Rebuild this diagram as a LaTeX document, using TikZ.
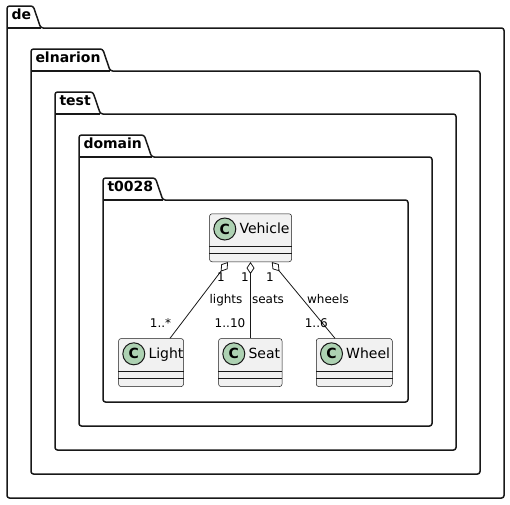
\documentclass[tikz,border=0pt]{standalone}
\usepackage{fontspec}
\setmainfont{DejaVu Sans}
\usetikzlibrary{arrows.meta,calc}
\definecolor{cfill}{HTML}{F1F1F1}
\definecolor{cline}{HTML}{181818}
\definecolor{cgreen}{HTML}{ADD1B2}
\tikzset{
  pkglabel/.style={font=\fontsize{14}{16}\selectfont\bfseries, anchor=base west, inner sep=0pt},
  pkgline/.style={draw=cline, line width=1.5pt, rounded corners=2.5pt},
  classbox/.style={draw=cline, fill=cfill, line width=0.5pt, rounded corners=2.5pt,
    minimum height=48pt, anchor=north west, inner sep=0pt},
  sepline/.style={draw=cline, line width=0.5pt},
  circ/.style={circle, draw=cline, fill=cgreen, line width=1pt, minimum size=22pt, inner sep=0pt,
    font=\fontsize{14}{16}\selectfont\bfseries},
  cname/.style={font=\fontsize{14}{16}\selectfont, anchor=base west, inner sep=0pt},
  lbl/.style={font=\fontsize{12}{14}\selectfont, anchor=base, inner sep=0pt},
  agg/.style={draw=cline, line width=0.8pt, arrows={Diamond[open,length=12pt,width=8pt]-}},
}
\newcommand\pkgdraw[6]{%
  \node[pkglabel] (#1) at (#2+4.3, #3+13.5) {#6};
  \coordinate (#1-tl) at (#2,#3);
  \coordinate (#1-bt) at (#2,#3+22);
  \coordinate (#1-a) at ($(#1.east)+(2,0)$);
  \coordinate (#1-b) at ($(#1.east)+(9.5,0)$);
  \draw[pkgline] (#1-bt) -- (#1-tl) -- (#1-a |- #1-tl) -- (#1-b |- #1-bt) -- (#4,#3+22) -- (#4,#5) -- (#2,#5) -- cycle;
  \draw[pkgline, rounded corners=0pt] (#1-bt) -- (#1-b |- #1-bt);
}
\newcommand\umlclass[5]{%
  \node[classbox, minimum width=#4pt] (#1) at (#2,#3) {};
  \draw[sepline] ($(#1.north west)+(0,33)$) -- ($(#1.north east)+(0,33)$);
  \draw[sepline] ($(#1.north west)+(0,40)$) -- ($(#1.north east)+(0,40)$);
  \node[circ] (#1-c) at (#2+15.5, #3+15.5) {C};
  \node[cname] (#1-n) at (#2+30, #3+20.2) {#5};
}
\begin{document}
\begin{tikzpicture}[x=1pt,y=-1pt]
\useasboundingbox (0,0) rectangle (510,504);
\pkgdraw{pde}{7}{6}{504}{498}{de}
\pkgdraw{pel}{31}{49}{480}{474}{elnarion}
\pkgdraw{pte}{55}{92}{456}{450}{test}
\pkgdraw{pdo}{79}{135}{432}{426}{domain}
\pkgdraw{pt0}{103}{178}{408}{402}{t0028}

\umlclass{vehicle}{209.3}{213.5}{82}{Vehicle}
\umlclass{light}{118.3}{338.3}{65}{Light}
\umlclass{seat}{218.3}{338.3}{63.5}{Seat}
\umlclass{wheel}{316}{338.3}{76}{Wheel}

\coordinate (v1) at ($(vehicle.south west)+(18.7,0)$);
\coordinate (v2) at ($(vehicle.south west)+(41.2,0)$);
\coordinate (v3) at ($(vehicle.south west)+(62.5,0)$);
\coordinate (l1) at ($(light.north west)+(51.7,0)$);
\coordinate (s1) at ($(seat.north west)+(32.2,0)$);
\coordinate (w1) at ($(wheel.north west)+(19,0)$);
\draw[agg] (v1) -- (l1);
\draw[agg] (v2) -- (s1);
\draw[agg] (v3) -- (w1);

\node[lbl] (m1) at (221,281) {1};
\node[lbl] (m2) at (245,281) {1};
\node[lbl] (m3) at (270,281) {1};
\node[lbl] (r1) at (226,303.5) {lights};
\node[lbl] (r2) at (268,303.5) {seats};
\node[lbl] (r3) at (328,303.5) {wheels};
\node[lbl] (n1) at (160.5,327) {1..*};
\node[lbl] (n2) at (230,327) {1..10};
\node[lbl] (n3) at (316.3,327) {1..6};
\end{tikzpicture}
\end{document}
